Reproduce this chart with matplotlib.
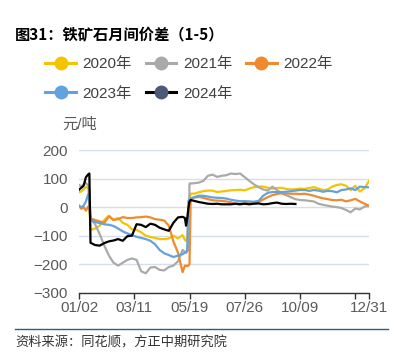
import numpy as np
import matplotlib
matplotlib.use('Agg')
import matplotlib.pyplot as plt
from matplotlib.lines import Line2D

plt.rcParams['font.family'] = ['Liberation Sans', 'Noto Sans CJK SC']
plt.rcParams['axes.unicode_minus'] = True

# trading-day index (0 = 01/02, 252 = 12/31)
day_idx = [0, 2, 4, 6, 8, 9, 10, 14, 18, 22, 26, 30, 34, 38, 42, 46, 50, 54, 58, 62,
           66, 70, 74, 78, 82, 86, 90, 92, 93, 94, 95, 96, 97, 98,
           100, 104, 108, 112, 116, 120, 124, 128, 132, 136, 140, 144, 148, 152, 156, 160,
           164, 168, 172, 176, 180, 184, 188, 192, 196, 200, 204, 208, 212, 216, 220, 224,
           228, 232, 236, 240, 244, 248, 252]

tick_pos = [0, 48, 96, 144, 192, 240, 252]
tick_labels = ['01/02', '03/11', '05/19', '07/26', '10/09', '', '12/31']

y2020 = [52, 55, 62, 70, 68, 0, -80, -75, -65, -45, -30, -45, -38, -55, -62, -78, -80, -88, -100, -105,
         -108, -112, -112, -110, -100, -110, -98, -115, -118, -110, -60, 30, 45, 48,
         47, 52, 56, 58, 58, 53, 55, 57, 59, 60, 61, 59, 65, 70, 72, 72,
         68, 65, 67, 68, 64, 62, 63, 65, 64, 67, 70, 65, 60, 62, 72, 78,
         80, 75, 60, 75, 55, 66, 92]

y2021 = [78, 72, 80, 85, 75, 60, -40, -60, -95, -135, -170, -195, -205, -195, -185, -180, -185, -225, -232, -212,
         -210, -220, -222, -210, -205, -190, -150, -158, -160, -155, -150, 82, 84, 83,
         84, 86, 92, 110, 114, 106, 110, 112, 118, 116, 118, 105, 92, 80, 70, 62,
         58, 72, 60, 48, 42, 35, 28, 25, 24, 22, 20, 12, 8, 5, 2, 0,
         -3, -10, -18, -5, -8, 2, 5]

y2022 = [5, -6, 0, -12, 2, -5, -40, -45, -50, -55, -32, -45, -42, -35, -38, -38, -36, -35, -33, -36,
         -42, -44, -47, -65, -120, -160, -228, -205, -205, -207, -205, -200, 25, 30,
         33, 36, 33, 28, 24, 23, 22, 20, 17, 12, 8, 14, 18, 17, 18, 27,
         35, 42, 46, 49, 48, 47, 47, 46, 47, 44, 40, 35, 31, 28, 25, 24,
         26, 20, 24, 29, 20, 12, 5]

y2023 = [5, 0, 5, 20, 45, 25, -45, -52, -56, -60, -62, -66, -75, -85, -92, -98, -104, -108, -112, -118,
         -130, -150, -162, -168, -175, -170, -165, -160, -158, -150, 22, 26, 30, 32,
         35, 40, 40, 37, 34, 33, 32, 30, 26, 23, 21, 21, 20, 19, 22, 40,
         50, 53, 53, 53, 54, 56, 58, 60, 60, 57, 60, 58, 54, 57, 56, 52,
         60, 62, 66, 60, 72, 70, 70]

y2024 = [61, 68, 75, 105, 115, 118, -125, -133, -135, -126, -120, -117, -112, -118, -102, -100, -60, -62, -70, -58,
         -62, -72, -78, -83, -55, -36, -34, -38, -65, -40, -5, 20, 25, 24,
         22, 18, 15, 12, 11, 12, 10, 10, 10, 12, 11, 12, 10, 12, 13, 10,
         11, 14, 16, 12, 11, 12, 11]

series = [
    ('2020年', y2020, '#F5C400', '#F5C400'),
    ('2021年', y2021, '#AAAAAA', '#AAAAAA'),
    ('2022年', y2022, '#EF8A2E', '#EF8A2E'),
    ('2023年', y2023, '#64A2DE', '#64A2DE'),
    ('2024年', y2024, '#000000', '#4A5A78'),
]

fig = plt.figure(figsize=(3.96, 3.6), dpi=100)
ax = fig.add_axes([0.1995, 0.187, 0.7325, 0.396])

handles = {}
for name, vals, col, mcol in series:
    ax.plot(day_idx[:len(vals)], vals, color=col, lw=1.6, solid_joinstyle='round')
    handles[name] = Line2D([], [], color=col, lw=2.2, marker='o', markersize=9,
                           markerfacecolor=mcol, markeredgecolor=mcol)

ax.set_xlim(0, 252)
ax.set_ylim(-300, 200)
ax.set_yticks([-300, -200, -100, 0, 100, 200])
ax.set_xticks(tick_pos)
ax.set_xticklabels(tick_labels)
ax.yaxis.grid(True, color='#D8DEE9', lw=1)
ax.set_axisbelow(True)
for s in ['top', 'right', 'left']:
    ax.spines[s].set_visible(False)
ax.spines['bottom'].set_color('#333333')
ax.spines['bottom'].set_linewidth(1)
ax.tick_params(axis='y', length=0, labelsize=11, labelcolor='#5A5A5A', pad=8)
ax.tick_params(axis='x', length=4, width=1, color='#333333', labelsize=11,
               labelcolor='#5A5A5A', pad=2)

order = ['2020年', '2023年', '2021年', '2024年', '2022年']
fig.legend([handles[k] for k in order], order, ncol=3, loc='upper left',
           bbox_to_anchor=(0.095, 0.862), frameon=False, fontsize=11,
           handlelength=2.0, handletextpad=0.45, columnspacing=0.9,
           labelspacing=1.0, borderpad=0, labelcolor='#404040')

fig.text(0.038, 0.903, '图31：铁矿石月间价差（1-5）', fontsize=11, fontweight='bold',
         va='center', ha='left', family=['Noto Sans CJK SC'])
fig.text(0.157, 0.653, '元/吨', fontsize=11, color='#5A5A5A', va='center', ha='left')

fig.add_artist(Line2D([0.038, 0.98], [0.086, 0.086], color='#2E5C8A', lw=1))
fig.text(0.038, 0.047, '资料来源：同花顺，方正中期研究院', fontsize=9.5, color='#333333',
         va='center', ha='left', style='italic', family=['Noto Sans CJK SC'])

fig.savefig('out.png', dpi=100)
